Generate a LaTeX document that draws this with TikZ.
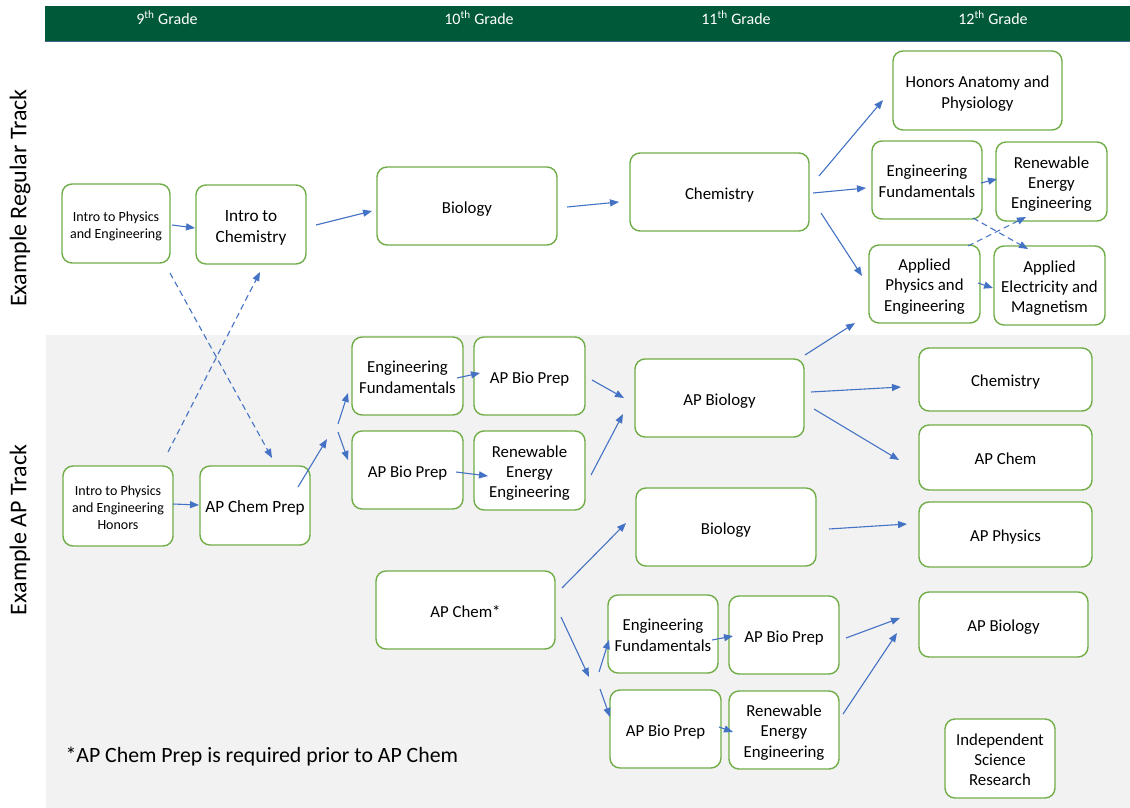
\documentclass[tikz,border=0pt]{standalone}
\usepackage{fontspec}
\setmainfont{Carlito}
\usetikzlibrary{arrows.meta}
\definecolor{hdr}{RGB}{0,89,56}
\definecolor{hdrline}{RGB}{70,100,140}
\definecolor{bx}{RGB}{112,173,71}
\definecolor{ar}{RGB}{68,114,196}
\definecolor{bg}{RGB}{242,242,242}
\newcommand\mytopst[1]{\rule{0pt}{#1pt}}
\begin{document}
\begin{tikzpicture}[x=1pt,y=-1pt,
  box/.style={draw=bx, line width=1.4pt, rounded corners=10pt, fill=white, align=center, inner sep=2pt, font=\fontsize{16.8}{20.2}\selectfont, execute at begin node={\rule{0pt}{21pt}}, execute at end node=\strut},
  big/.style={font=\fontsize{17.2}{21}\selectfont},
  small/.style={font=\fontsize{14}{17}\selectfont},
  sz/.style 2 args={minimum width=#1pt, minimum height=#2pt},
  arr/.style={draw=ar, line width=1.1pt, -{Triangle[length=9pt,width=7pt]}},
  dsh/.style={arr, dash pattern=on 6pt off 4pt},
  hd/.style={text=white, font=\fontsize{16}{19}\selectfont},
  side/.style={rotate=90, font=\fontsize{24}{28}\selectfont}]
\useasboundingbox (0,0) rectangle (1130,808);
\fill[white] (0,0) rectangle (1130,808);
% backgrounds
\fill[bg] (46,335) rectangle (1130,808);
\fill[hdr] (45,6) rectangle (1130,41);
\draw[hdrline, line width=1pt] (45,41.5) -- (1130,41.5);
\node[hd] (h9) at (167,18) {9\textsuperscript{th} Grade};
\node[hd] (h10) at (479,18) {10\textsuperscript{th} Grade};
\node[hd] (h11) at (736,18) {11\textsuperscript{th} Grade};
\node[hd] (h12) at (993,18) {12\textsuperscript{th} Grade};
\node[side] (sreg) at (20,198) {Example Regular Track};
\node[side] (sap) at (20,530) {Example AP Track};
% regular track
\node[box, small, sz={108}{79}] (A1) at (116,223.5) {\mytopst{18}Intro to Physics\\and Engineering};
\node[box, big, sz={110}{79}] (A2) at (251,224.5) {\mytopst{22}Intro to\\Chemistry};
\node[box, sz={180}{78}] (A3) at (467,206) {Biology};
\node[box, sz={179}{78}] (A4) at (719.5,192) {Chemistry};
\node[box, sz={169}{79}] (A5) at (977.5,90.5) {\mytopst{21}Honors Anatomy and\\Physiology};
\node[box, sz={110}{78}] (A6) at (927,180) {\mytopst{20}Engineering\\Fundamentals};
\node[box, sz={111}{79}] (A7) at (1051.5,181.5) {\mytopst{20}Renewable\\Energy\\Engineering};
\node[box, sz={111}{78}] (A8) at (924.5,284) {\mytopst{20}Applied\\Physics and\\Engineering};
\node[box, sz={111}{79}] (A9) at (1049.5,285.5) {\mytopst{20}Applied\\Electricity and\\Magnetism};
% AP track
\node[box, small, sz={110}{80}] (B1) at (118,506) {\mytopst{18}Intro to Physics\\and Engineering\\Honors};
\node[box, big, sz={110}{79}] (B2) at (255,505.5) {AP Chem Prep};
\node[box, sz={111}{78}] (B3) at (407.5,376) {\mytopst{20}Engineering\\Fundamentals};
\node[box, sz={111}{78}] (B4) at (529.5,376) {AP Bio Prep};
\node[box, sz={111}{78}] (B5) at (407.5,470) {AP Bio Prep};
\node[box, sz={111}{79}] (B6) at (529.5,470.5) {\mytopst{20}Renewable\\Energy\\Engineering};
\node[box, sz={169}{78}] (B7) at (719.5,398) {AP Biology};
\node[box, sz={180}{78}] (B8) at (726,527) {Biology};
\node[box, sz={179}{78}] (B9) at (465.5,610) {AP Chem*};
\node[box, sz={173}{63}] (B10) at (1005.5,379.5) {Chemistry};
\node[box, sz={173}{65}] (B11) at (1005.5,457.5) {AP Chem};
\node[box, sz={173}{65}] (B12) at (1005.5,534.5) {AP Physics};
\node[box, sz={169}{65}] (B13) at (1003.5,624.5) {AP Biology};
\node[box, sz={110}{78}] (B14) at (663,634) {\mytopst{20}Engineering\\Fundamentals};
\node[box, sz={110}{78}] (B15) at (784,635) {AP Bio Prep};
\node[box, sz={111}{78}] (B16) at (665.5,729) {AP Bio Prep};
\node[box, sz={110}{78}] (B17) at (784,730) {\mytopst{20}Renewable\\Energy\\Engineering};
\node[box, sz={110}{79}] (B18) at (1000,758.5) {\mytopst{20}Independent\\Science\\Research};
\node[anchor=west, font=\fontsize{21.8}{26}\selectfont] (note) at (62,757) {*AP Chem Prep is required prior to AP Chem};
\coordinate (f1) at (333,431);
\coordinate (f2) at (594,680);
% regular track arrows
\draw[arr] ([shift={(56,1.5)}]A1.center) -- ([shift={(-56,3.5)}]A2.center);
\draw[arr] ([shift={(65,0.5)}]A2.center) -- ([shift={(-95,5)}]A3.center);
\draw[arr] ([shift={(100,1)}]A3.center) -- ([shift={(-100.5,10)}]A4.center);
\draw[arr] ([shift={(99.5,-16)}]A4.center) -- ([shift={(-94.5,9.5)}]A5.center);
\draw[arr] ([shift={(93.5,1)}]A4.center) -- ([shift={(-61,8)}]A6.center);
\draw[arr] ([shift={(101.5,21)}]A4.center) -- ([shift={(-62.5,-8)}]A8.center);
\draw[arr] ([shift={(54,3)}]A6.center) -- ([shift={(-54.5,-2.5)}]A7.center);
\draw[dsh] ([shift={(46,38)}]A6.center) -- ([shift={(-21.5,-36.5)}]A9.center);
\draw[dsh] ([shift={(43.5,-38)}]A8.center) -- ([shift={(-25.5,35.5)}]A7.center);
\draw[arr] ([shift={(53.5,-1)}]A8.center) -- ([shift={(-56.5,2.5)}]A9.center);
\draw[arr] ([shift={(85.5,-43)}]B7.center) -- ([shift={(-69.5,39)}]A8.center);
% cross-track dashed
\draw[dsh] ([shift={(54,49.5)}]A1.center) -- ([shift={(17,-47.5)}]B2.center);
\draw[dsh] ([shift={(50,-54)}]B1.center) -- ([shift={(9,47.5)}]A2.center);
% AP track arrows
\draw[arr] ([shift={(55,-2)}]B1.center) -- ([shift={(-56,-0.5)}]B2.center);
\draw[arr] ([shift={(43,-18.5)}]B2.center) -- ([shift={(-6,8)}]f1);
\draw[arr] ([shift={(5,-7)}]f1) -- ([shift={(-59.5,17)}]B3.center);
\draw[arr] ([shift={(5,1)}]f1) -- ([shift={(-59.5,-10)}]B5.center);
\draw[arr] ([shift={(49.5,2)}]B3.center) -- ([shift={(-49.5,-3)}]B4.center);
\draw[arr] ([shift={(48.5,2)}]B5.center) -- ([shift={(-41.5,5.5)}]B6.center);
\draw[arr] ([shift={(62.5,4)}]B4.center) -- ([shift={(-95.5,0)}]B7.center);
\draw[arr] ([shift={(61.5,4.5)}]B6.center) -- ([shift={(-96.5,16)}]B7.center);
\draw[arr] ([shift={(91.5,-6)}]B7.center) -- ([shift={(-104.5,7.5)}]B10.center);
\draw[arr] ([shift={(94.5,11)}]B7.center) -- ([shift={(-106.5,2.5)}]B11.center);
\draw[arr] ([shift={(103,2)}]B8.center) -- ([shift={(-98.5,-10.5)}]B12.center);
\draw[arr] ([shift={(96.5,-22)}]B9.center) -- ([shift={(-100,-4)}]B8.center);
\draw[arr] ([shift={(95.5,7)}]B9.center) -- ([shift={(-5,-3)}]f2);
\draw[arr] ([shift={(5,-8)}]f2) -- ([shift={(-54,6)}]B14.center);
\draw[arr] ([shift={(6,9)}]f2) -- ([shift={(-55.5,-12)}]B16.center);
\draw[arr] ([shift={(49,6)}]B14.center) -- ([shift={(-51,1)}]B15.center);
\draw[arr] ([shift={(53.5,-2)}]B16.center) -- ([shift={(-51,2)}]B17.center);
\draw[arr] ([shift={(62,3)}]B15.center) -- ([shift={(-103.5,-6.5)}]B13.center);
\draw[arr] ([shift={(59,-16)}]B17.center) -- ([shift={(-106.5,8.5)}]B13.center);
\end{tikzpicture}
\end{document}
